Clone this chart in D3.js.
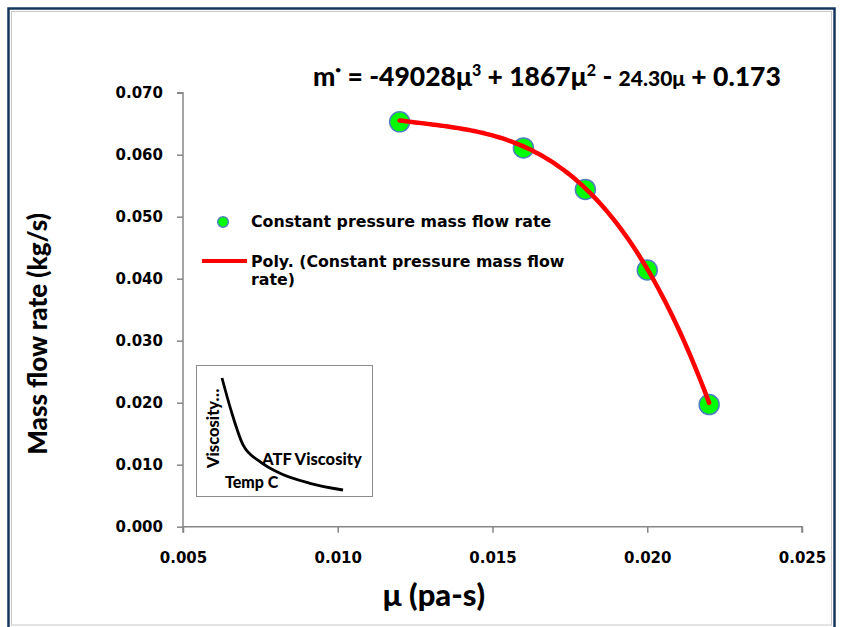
<!DOCTYPE html>
<html>
<head>
<meta charset="utf-8">
<script src="https://cdn.jsdelivr.net/npm/d3@7"></script>
<style>
  html, body { margin: 0; padding: 0; background: #ffffff; }
  svg { display: block; }
  text { white-space: pre; }
</style>
</head>
<body>
<svg id="chart" width="844" height="627"></svg>
<script>
// Viscosity (Pa·s) and measured mass flow rate (kg/s) at constant pressure
const muValues = [0.012, 0.016, 0.018, 0.020, 0.022];
const flowRates = [0.0653, 0.0611, 0.0544, 0.0414, 0.0197];

// Cubic trendline coefficients: m = a·μ³ + b·μ² + c·μ + d
const polyCoefficients = [-49028, 1867, -24.30, 0.173];

// Axis ticks
const xTicks = [0.005, 0.010, 0.015, 0.020, 0.025];
const yTicks = [0.000, 0.010, 0.020, 0.030, 0.040, 0.050, 0.060, 0.070];

// Small ATF viscosity vs temperature sketch (relative units)
const insetTemp = [0, 7.8, 17.4, 31.4, 47.9, 72.7, 100];
const insetViscosity = [100, 69.9, 40.2, 25.3, 14.9, 6.0, 0];

const svg = d3.select("#chart");

// Outer frame
svg.append("rect")
  .attr("x", 8.5).attr("y", 8.5).attr("width", 826).attr("height", 640)
  .attr("fill", "#ffffff").attr("stroke", "#17365d").attr("stroke-width", 2.5);
svg.append("rect")
  .attr("x", 11.5).attr("y", 11.5).attr("width", 820).attr("height", 613.5)
  .attr("fill", "none").attr("stroke", "#c8c8c8").attr("stroke-width", 1);

const x = d3.scaleLinear().domain([0.005, 0.025]).range([183, 802]);
const y = d3.scaleLinear().domain([0, 0.07]).range([526.7, 92.7]);

const tickFont = "'DejaVu Sans', Verdana, sans-serif";

// Y axis
const yAxis = svg.append("g")
  .attr("transform", `translate(${x.range()[0]},0)`)
  .call(d3.axisLeft(y).tickValues(yTicks).tickFormat(d3.format(".3f")).tickSize(6).tickPadding(14));
// X axis
const xAxis = svg.append("g")
  .attr("transform", `translate(0,${y(0)})`)
  .call(d3.axisBottom(x).tickValues(xTicks).tickFormat(d3.format(".3f")).tickSize(6).tickPadding(20));

[yAxis, xAxis].forEach(g => {
  g.select(".domain").attr("stroke", "#868686").attr("stroke-width", 1.5);
  g.selectAll(".tick line").attr("stroke", "#868686").attr("stroke-width", 1.5);
  g.selectAll(".tick text")
    .attr("fill", "#000")
    .attr("font-family", tickFont)
    .attr("font-weight", "bold")
    .attr("font-size", 15);
});
xAxis.select(".domain").attr("d", `M${x.range()[0]},6V0H${x.range()[1]}V6`);
yAxis.select(".domain").attr("d", `M-6,${y.range()[1]}H0V${y.range()[0]}`);

// Inset sketch
const inset = svg.append("g");
inset.append("rect")
  .attr("x", 196.5).attr("y", 365.5).attr("width", 176).attr("height", 131)
  .attr("fill", "#ffffff").attr("stroke", "#8c8c8c").attr("stroke-width", 1);
const ix = d3.scaleLinear().domain([0, 100]).range([222, 343]);
const iy = d3.scaleLinear().domain([0, 100]).range([490, 378]);
inset.append("path")
  .datum(insetTemp.map((t, i) => [t, insetViscosity[i]]))
  .attr("fill", "none").attr("stroke", "#000").attr("stroke-width", 2.8)
  .attr("d", d3.line().x(d => ix(d[0])).y(d => iy(d[1])).curve(d3.curveMonotoneX));
const insetFont = "Lato, 'Open Sans', sans-serif";
inset.append("text")
  .attr("transform", "translate(219,468) rotate(-90)")
  .attr("font-family", insetFont).attr("font-weight", 900).attr("font-size", 16.5)
  .text("Viscosity…");
inset.append("text")
  .attr("x", 262).attr("y", 465)
  .attr("font-family", insetFont).attr("font-weight", 900).attr("font-size", 16.5)
  .text("ATF Viscosity");
inset.append("text")
  .attr("x", 225).attr("y", 488)
  .attr("font-family", insetFont).attr("font-weight", 900).attr("font-size", 16)
  .text("Temp C");

// Trendline drawn from its fitted equation
const poly = mu => polyCoefficients.reduce((acc, c) => acc * mu + c, 0);
const trendMu = d3.range(0, 101).map(i => muValues[0] + (muValues[muValues.length - 1] - muValues[0]) * i / 100);

// Measured points
svg.append("g").selectAll("circle")
  .data(muValues.map((mu, i) => [mu, flowRates[i]]))
  .join("circle")
  .attr("cx", d => x(d[0])).attr("cy", d => y(d[1])).attr("r", 10)
  .attr("fill", "#00ff00").attr("stroke", "#4f81bd").attr("stroke-width", 1.5);
// Trendline sits over the markers
svg.append("path")
  .datum(trendMu.map(mu => [mu, poly(mu)]))
  .attr("fill", "none").attr("stroke", "#ff0000").attr("stroke-width", 4.5)
  .attr("stroke-linecap", "round")
  .attr("d", d3.line().x(d => x(d[0])).y(d => y(d[1])));

// Legend
const legendFont = "'DejaVu Sans', sans-serif";
const legend = svg.append("g");
legend.append("circle").attr("cx", 223).attr("cy", 222).attr("r", 5.3)
  .attr("fill", "#00ff00").attr("stroke", "#4f81bd").attr("stroke-width", 1.5);
legend.append("text").attr("x", 251).attr("y", 227)
  .attr("font-family", legendFont).attr("font-weight", "bold").attr("font-size", 15.8)
  .text("Constant pressure mass flow rate");
legend.append("line").attr("x1", 202).attr("x2", 247).attr("y1", 261).attr("y2", 261)
  .attr("stroke", "#ff0000").attr("stroke-width", 4);
legend.append("text").attr("x", 251).attr("y", 267)
  .attr("font-family", legendFont).attr("font-weight", "bold").attr("font-size", 15.8)
  .text("Poly. (Constant pressure mass flow");
legend.append("text").attr("x", 251).attr("y", 285)
  .attr("font-family", legendFont).attr("font-weight", "bold").attr("font-size", 15.8)
  .text("rate)");

// Fitted equation
const titleFont = "Lato, 'Open Sans', sans-serif";
const eq = svg.append("text")
  .attr("x", 313).attr("y", 86)
  .attr("font-family", titleFont).attr("font-weight", 900).attr("font-size", 26.5)
  .attr("fill", "#000");
eq.append("tspan").text("m");
eq.append("tspan").attr("font-size", 10).attr("dy", -13).text("•");
eq.append("tspan").attr("dy", 13).text(" = -49028μ");
eq.append("tspan").attr("font-size", 16).attr("dy", -10).text("3");
eq.append("tspan").attr("dy", 10).text(" + 1867μ");
eq.append("tspan").attr("font-size", 16).attr("dy", -10).text("2");
eq.append("tspan").attr("dy", 10).text(" - ");
eq.append("tspan").attr("font-size", 21).text("24.30μ");
eq.append("tspan").text(" + 0.173");

// Axis titles
svg.append("text")
  .attr("transform", "translate(47,334) rotate(-90)")
  .attr("text-anchor", "middle")
  .attr("font-family", titleFont).attr("font-weight", 900).attr("font-size", 26)
  .text("Mass flow rate (kg/s)");
svg.append("text")
  .attr("x", 434).attr("y", 606)
  .attr("text-anchor", "middle")
  .attr("font-family", titleFont).attr("font-weight", 900).attr("font-size", 31)
  .text("μ (pa-s)");
</script>
</body>
</html>
